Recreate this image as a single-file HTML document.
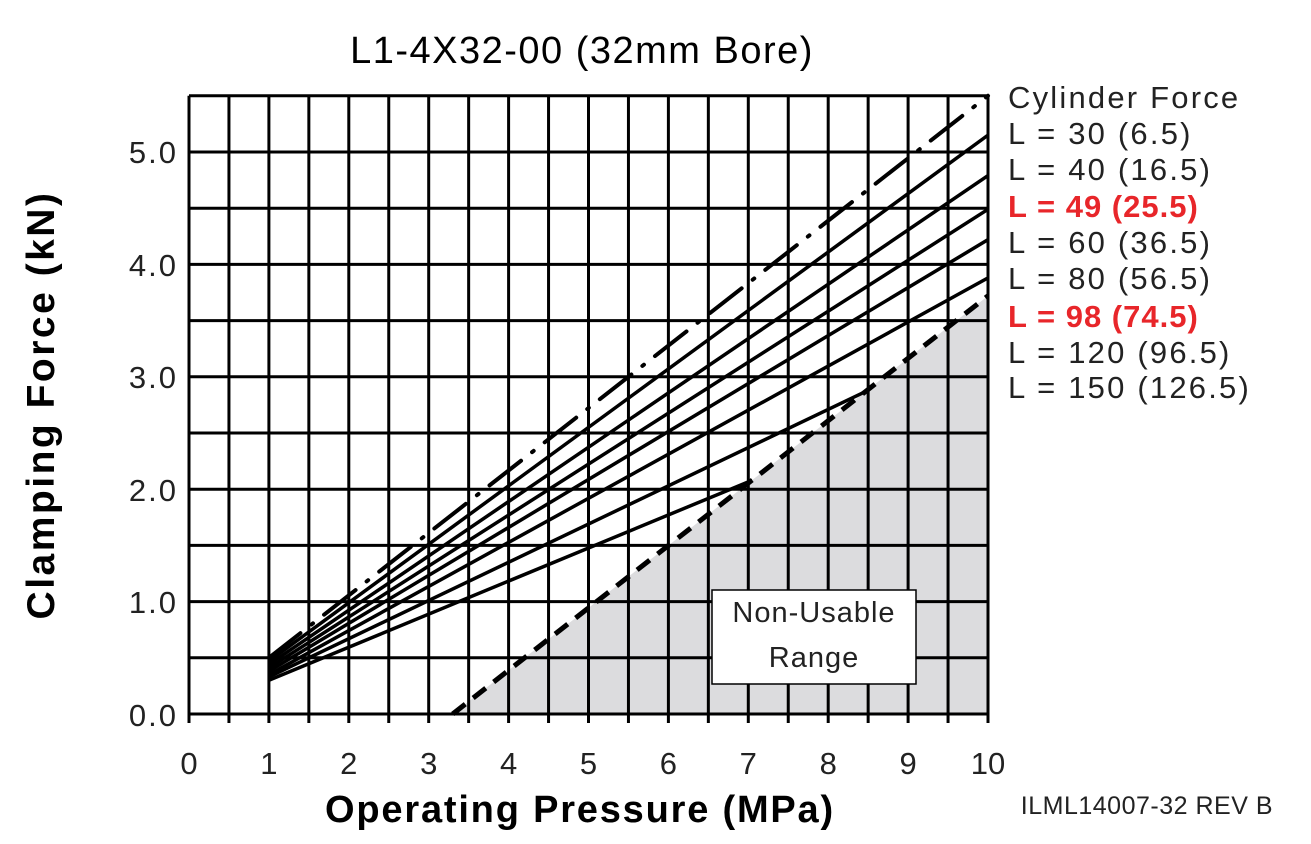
<!DOCTYPE html>
<html><head><meta charset="utf-8"><style>
html,body{margin:0;padding:0;background:#fff;}
svg{display:block;font-family:"Liberation Sans",sans-serif;}
</style></head><body>
<svg id="s" width="1311" height="844" viewBox="0 0 1311 844" xmlns="http://www.w3.org/2000/svg">
<rect width="1311" height="844" fill="#fff"/>
<g id="g"></g>
<text x="582" y="63" font-size="38" letter-spacing="1.5" text-anchor="middle" fill="#000">L1-4X32-00 (32mm Bore)</text>
<g font-size="31" fill="#222" letter-spacing="2.2">
<text x="1008" y="108">Cylinder Force</text>
<text x="1008" y="144">L = 30 (6.5)</text>
<text x="1008" y="180">L = 40 (16.5)</text>
<text x="1008" y="217" fill="#e8262a" font-weight="bold" letter-spacing="1">L = 49 (25.5)</text>
<text x="1008" y="253">L = 60 (36.5)</text>
<text x="1008" y="289">L = 80 (56.5)</text>
<text x="1008" y="327" fill="#e8262a" font-weight="bold" letter-spacing="1">L = 98 (74.5)</text>
<text x="1008" y="363">L = 120 (96.5)</text>
<text x="1008" y="398">L = 150 (126.5)</text>
</g>
<g font-size="31" fill="#222" text-anchor="end" letter-spacing="2">
<text x="178" y="163">5.0</text><text x="178" y="276">4.0</text><text x="178" y="388">3.0</text>
<text x="178" y="501">2.0</text><text x="178" y="613">1.0</text><text x="178" y="726">0.0</text>
</g>
<g font-size="31" fill="#222" text-anchor="middle" id="xl"></g>
<text x="580" y="822" font-size="38" font-weight="bold" letter-spacing="1.8" text-anchor="middle">Operating Pressure (MPa)</text>
<text transform="translate(54,405) rotate(-90)" font-size="39" font-weight="bold" letter-spacing="2.5" text-anchor="middle">Clamping Force (kN)</text>
<text x="1273" y="814" font-size="25" letter-spacing="0.5" text-anchor="end" fill="#222">ILML14007-32 REV B</text>
</svg>
<script>
var X=v=>189+v*79.9, Y=v=>714-v*112.4;
var h='';
h+='<polygon points="'+X(3.3)+','+Y(0)+' '+X(10)+','+Y(3.72)+' '+X(10)+','+Y(0)+'" fill="#dcdcde"/>';
for(var i=0;i<=20;i++){var x=X(i/2);h+='<line x1="'+x+'" y1="'+Y(5.5)+'" x2="'+x+'" y2="'+(Y(0)+9)+'" stroke="#000" stroke-width="3"/>';}
for(var j=0;j<=11;j++){var y=Y(j/2);h+='<line x1="'+X(0)+'" y1="'+y+'" x2="'+X(10)+'" y2="'+y+'" stroke="#000" stroke-width="3"/>';}
h+='<rect x="712" y="590" width="204" height="94" fill="#fff" stroke="#000" stroke-width="1.5"/>';
h+='<text x="814" y="622" font-size="29" letter-spacing="1" text-anchor="middle" fill="#222">Non-Usable</text><text x="814" y="667" font-size="29" letter-spacing="1" text-anchor="middle" fill="#222">Range</text>';
var L=[[0.47,10,5.15],[0.44,10,4.79],[0.41,10,4.49],[0.38,10,4.22],[0.35,10,3.88],[0.33,8.5,2.88],[0.3,7.05,2.08]];
L.forEach(function(l){h+='<line x1="'+X(1)+'" y1="'+Y(l[0])+'" x2="'+X(l[1])+'" y2="'+Y(l[2])+'" stroke="#000" stroke-width="3.5"/>';});
h+='<line x1="'+X(1)+'" y1="'+Y(0.5)+'" x2="'+X(10)+'" y2="'+Y(5.5)+'" stroke="#000" stroke-width="4" stroke-dasharray="40,14,2,14" stroke-linecap="round"/>';
h+='<line x1="'+X(3.3)+'" y1="'+Y(0)+'" x2="'+X(10)+'" y2="'+Y(3.72)+'" stroke="#000" stroke-width="5" stroke-dasharray="16,10"/>';
document.getElementById('g').innerHTML=h;
var t='';for(var k=0;k<=10;k++)t+='<text x="'+X(k)+'" y="774">'+k+'</text>';
document.getElementById('xl').innerHTML=t;
</script>
</body></html>
